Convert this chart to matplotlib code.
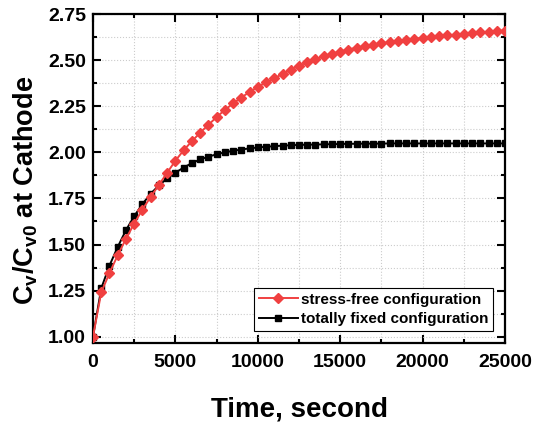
import matplotlib
matplotlib.use("Agg")
import matplotlib.pyplot as plt
from matplotlib.ticker import MultipleLocator, FormatStrFormatter

plt.rcParams['font.family'] = ['Liberation Sans', 'DejaVu Sans']
plt.rcParams['font.weight'] = 'bold'
plt.rcParams['mathtext.fontset'] = 'custom'
plt.rcParams['mathtext.rm'] = 'Liberation Sans:bold'
plt.rcParams['mathtext.bf'] = 'Liberation Sans:bold'
plt.rcParams['mathtext.it'] = 'Liberation Sans:bold'

time_s = [i * 500 for i in range(51)]
stress_free = [1.000, 1.240, 1.345, 1.442, 1.531, 1.614, 1.690, 1.759, 1.824, 1.890,
               1.955, 2.012, 2.061, 2.107, 2.150, 2.192, 2.231, 2.266, 2.298, 2.329,
               2.356, 2.380, 2.403, 2.426, 2.450, 2.471, 2.490, 2.507, 2.522, 2.536,
               2.548, 2.559, 2.569, 2.578, 2.586, 2.593, 2.599, 2.605, 2.611, 2.617,
               2.622, 2.627, 2.632, 2.636, 2.640, 2.644, 2.648, 2.652, 2.656, 2.659,
               2.662]
totally_fixed = [1.000, 1.262, 1.386, 1.487, 1.578, 1.654, 1.720, 1.776, 1.821, 1.859,
                 1.890, 1.918, 1.942, 1.962, 1.977, 1.990, 2.001, 2.009, 2.016, 2.022,
                 2.027, 2.031, 2.034, 2.037, 2.039, 2.041, 2.042, 2.043, 2.044, 2.045,
                 2.046, 2.047, 2.047, 2.048, 2.048, 2.048, 2.049, 2.049, 2.049, 2.049,
                 2.049, 2.049, 2.049, 2.049, 2.049, 2.049, 2.049, 2.049, 2.049, 2.049,
                 2.049]
labels = ['stress-free configuration', 'totally fixed configuration']

fig = plt.figure(figsize=(5.33, 4.24), dpi=100)
ax = fig.add_axes([0.1745, 0.191, 0.773, 0.776])

ax.plot(time_s, stress_free, color='#f04040', marker='D', markersize=4.8,
        linewidth=1.4, label=labels[0], zorder=3)
ax.plot(time_s, totally_fixed, color='black', marker='s', markersize=4.8,
        linewidth=1.4, label=labels[1], zorder=2)

ax.set_xlim(0, 25000)
ax.set_ylim(0.965, 2.752)
ax.xaxis.set_major_locator(MultipleLocator(5000))
ax.xaxis.set_minor_locator(MultipleLocator(2500))
ax.yaxis.set_major_locator(MultipleLocator(0.25))
ax.yaxis.set_minor_locator(MultipleLocator(0.125))
ax.yaxis.set_major_formatter(FormatStrFormatter('%.2f'))

ax.grid(True, which='both', color='#cccccc', linestyle=':', linewidth=0.8)
ax.set_axisbelow(True)

ax.tick_params(which='both', direction='in', top=True, right=True, width=1.5,
               labelsize=14)
ax.tick_params(axis='x', which='both', pad=8)
ax.tick_params(axis='y', which='both', pad=5)
ax.tick_params(which='major', length=6)
ax.tick_params(which='minor', length=3)
for lab in ax.get_xticklabels() + ax.get_yticklabels():
    lab.set_fontweight('bold')
for sp in ax.spines.values():
    sp.set_linewidth(1.6)

ax.set_xlabel('Time, second', fontsize=20, fontweight='bold', labelpad=18)
ax.set_ylabel(r'$\mathbf{C_v/C_{v0}}$ at Cathode', fontsize=19.5, fontweight='bold')
ax.yaxis.set_label_coords(-0.129, 0.465)

leg = ax.legend(loc='lower right', bbox_to_anchor=(0.972, 0.038),
                prop={'weight': 'bold', 'size': 11}, frameon=True, fancybox=False,
                edgecolor='black', framealpha=1, handlelength=2.6, borderpad=0.3,
                labelspacing=0.35, handletextpad=0.2, borderaxespad=0.0)
leg.get_frame().set_linewidth(0.8)

fig.savefig('out.png', dpi=100)
